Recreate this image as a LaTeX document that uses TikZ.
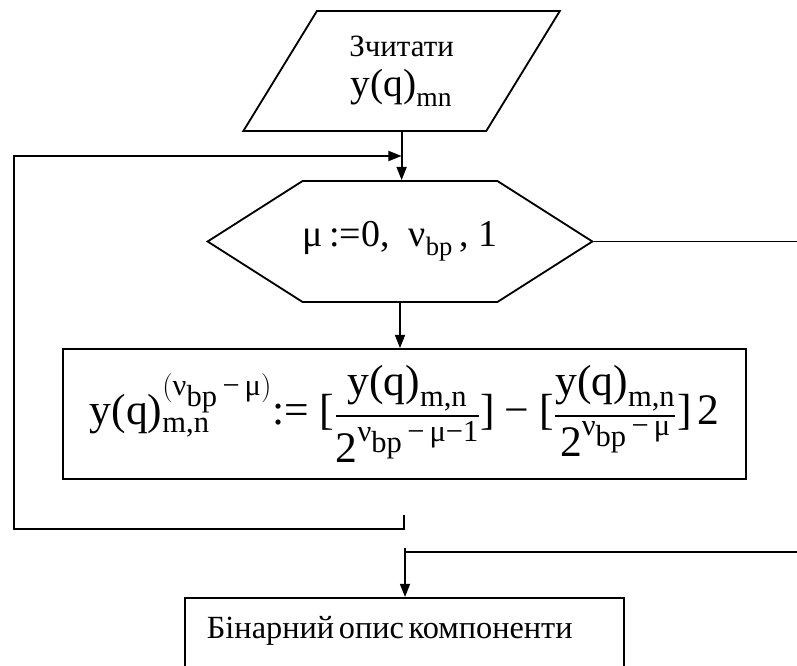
\documentclass[tikz,border=0pt]{standalone}
\usepackage{amsmath}
\usepackage{fontspec}
\setmainfont{Liberation Serif}
\usepackage{tikz}
\usetikzlibrary{arrows.meta, positioning, shapes.geometric, shapes.symbols}

\newcommand{\tu}[1]{\text{#1}}
\newcommand{\nbp}{\tu{ν}_{\scriptstyle\tu{bp}}}

\begin{document}
\begin{tikzpicture}[
    line width=1.3pt,
    arr/.style={-{Triangle[length=0.33cm, width=0.25cm]}},
    readbox/.style={draw, trapezium, trapezium left angle=57.3, trapezium right angle=122.7,
      trapezium stretches=true, minimum width=7.925cm, minimum height=3cm, inner sep=0pt, align=center},
    hexbox/.style={draw, signal, signal to=west and east, signal pointer angle=65,
      minimum width=9.6cm, minimum height=3.025cm, inner sep=0pt},
    calcbox/.style={draw, minimum width=17.075cm, minimum height=3.25cm, inner sep=0pt},
    outbox/.style={draw, anchor=north west, text width=9.875cm, align=left, inner xsep=0.55cm,
      inner ysep=0.425cm, text height=0.6cm, text depth=2cm}
  ]
  \useasboundingbox (0,0) rectangle (19.925,16.625);

  % --- input ---
  \node[readbox] (read) at (10.04,14.85)
    {{\fontsize{22}{25}\selectfont Зчитати}\\[8pt]{\fontsize{28}{32}\selectfont $\tu{y(q)}_{\tu{mn}}$}};

  % --- loop head ---
  \node[hexbox] (loop) at (10,10.5875)
    {\fontsize{27}{32}\selectfont $\tu{μ\,:=0,\ \ ν}_{\tu{bp}}\tu{\,, 1}$};

  % --- body ---
  \node[calcbox] (calc) at (10.1125,6.275) {\fontsize{31}{36}\selectfont
    $\tu{y(q)}^{(\nbp\,\tu{−}\,\tu{μ})}_{\tu{m,n}}\tu{:= [}\dfrac{\tu{y(q)}_{\tu{m,n}}}{\tu{2}^{\nbp\,\tu{−}\,\tu{μ−1}}}\tu{]}\;\tu{−}\;\tu{[}\dfrac{\tu{y(q)}_{\tu{m,n}}}{\tu{2}^{\nbp\,\tu{−}\,\tu{μ}}}\tu{]}\,\tu{2}$};

  % --- output ---
  \node[outbox] (out) at (4.6,1.7) {\fontsize{23}{26}\selectfont Бінарний опис компоненти};

  % --- connectors ---
  \draw[arr] (read.south) -- (read.south |- loop.north);
  \draw[arr] (loop.south) -- (loop.south |- calc.north);

  % return to loop head
  \coordinate (ret-a) at (10.1,3.75);
  \coordinate (ret-b) at (10.1,3.4);
  \coordinate (ret-c) at (0.35,3.4);
  \coordinate (ret-d) at (0.35,12.725);
  \draw[arr] (ret-a) -- (ret-b) -- (ret-c) -- (ret-d) -- (read.south |- ret-d);

  % loop exit
  \coordinate (exit-a) at (20.2,10.5875);
  \coordinate (exit-b) at (20.2,2.825);
  \coordinate (exit-c) at (10.125,2.825);
  \coordinate (exit-t) at (10.125,2.925);
  \draw (loop.east) -- (exit-a);
  \draw (exit-b) -- (exit-c);
  \draw[arr] (exit-t) -- (exit-c |- out.north);
\end{tikzpicture}
\end{document}
